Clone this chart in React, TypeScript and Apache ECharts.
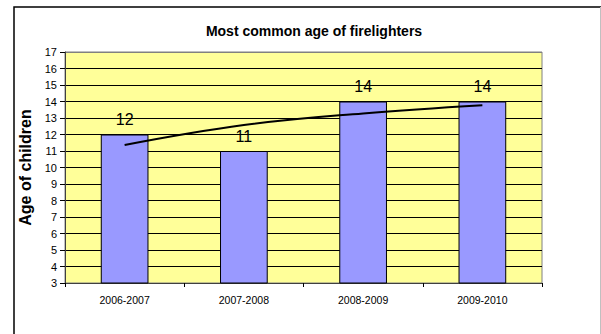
import React, { useEffect, useRef } from "react";
import * as echarts from "echarts";

const categories = ["2006-2007", "2007-2008", "2008-2009", "2009-2010"];
const ages = [12, 11, 14, 14];
const trendValues = [11.36, 12.57, 13.28, 13.78];
const titleText = "Most common age of firelighters";
const yAxisName = "Age of children";

const FONT = "'Liberation Sans', Arial, sans-serif";

export default function App() {
  const ref = useRef<HTMLDivElement>(null);
  useEffect(() => {
    if (!ref.current) return;
    const chart = echarts.init(ref.current, null, { renderer: "svg" });
    const splitColors: string[] = [];
    for (let v = 3; v <= 17; v++) splitColors.push(v === 17 ? "#808080" : "#000000");
    chart.setOption({
      animation: false,
      backgroundColor: "#ffffff",
      textStyle: { fontFamily: FONT },
      title: {
        text: titleText,
        left: 309,
        textAlign: "center",
        top: 19,
        textStyle: { fontSize: 14, fontWeight: "bold", color: "#000", fontFamily: FONT },
      },
      grid: {
        left: 65,
        right: 59,
        top: 52,
        bottom: 51,
        show: true,
        backgroundColor: "#FFFF99",
        borderColor: "#808080",
        borderWidth: 1,
      },
      graphic: [
        {
          type: "rect",
          shape: { x: 14, y: 7, width: 700, height: 400 },
          style: { fill: "none", stroke: "#000", lineWidth: 1.5 },
          silent: true,
        },
        {
          type: "line",
          shape: { x1: 600.5, y1: 7, x2: 600.5, y2: 334 },
          style: { stroke: "#c0c0c0", lineWidth: 1 },
          silent: true,
        },
      ],
      xAxis: {
        type: "category",
        data: categories,
        boundaryGap: true,
        axisLine: { show: true, lineStyle: { color: "#404040", width: 1 } },
        axisTick: { show: true, interval: 0, length: 4, lineStyle: { color: "#000" } },
        axisLabel: { fontSize: 10.5, color: "#000", margin: 11, fontFamily: FONT, interval: 0 },
        splitLine: { show: false },
      },
      yAxis: {
        type: "value",
        min: 3,
        max: 17,
        interval: 1,
        name: yAxisName,
        nameLocation: "middle",
        nameGap: 20,
        nameTextStyle: { fontSize: 16, fontWeight: "bold", color: "#000", fontFamily: FONT },
        axisLine: { show: true, lineStyle: { color: "#404040", width: 1 } },
        axisTick: { show: true, length: 5, lineStyle: { color: "#000" } },
        axisLabel: { fontSize: 11, color: "#000", margin: 8, fontFamily: FONT },
        splitLine: { show: true, lineStyle: { color: splitColors, width: 1 } },
      },
      series: [
        {
          type: "bar",
          data: ages,
          barWidth: "40%",
          itemStyle: { color: "#9999FF", borderColor: "#000", borderWidth: 1 },
          label: {
            show: true,
            position: "top",
            distance: 7,
            fontSize: 16,
            color: "#000",
            fontFamily: FONT,
          },
          z: 2,
        },
        {
          type: "line",
          data: trendValues,
          smooth: 0.4,
          showSymbol: false,
          symbol: "none",
          lineStyle: { color: "#000", width: 2 },
          z: 3,
        },
      ],
    });
    return () => chart.dispose();
  }, []);
  return (
    <div
      ref={ref}
      style={{ position: "fixed", left: 0, top: 0, width: 601, height: 334 }}
    />
  );
}
